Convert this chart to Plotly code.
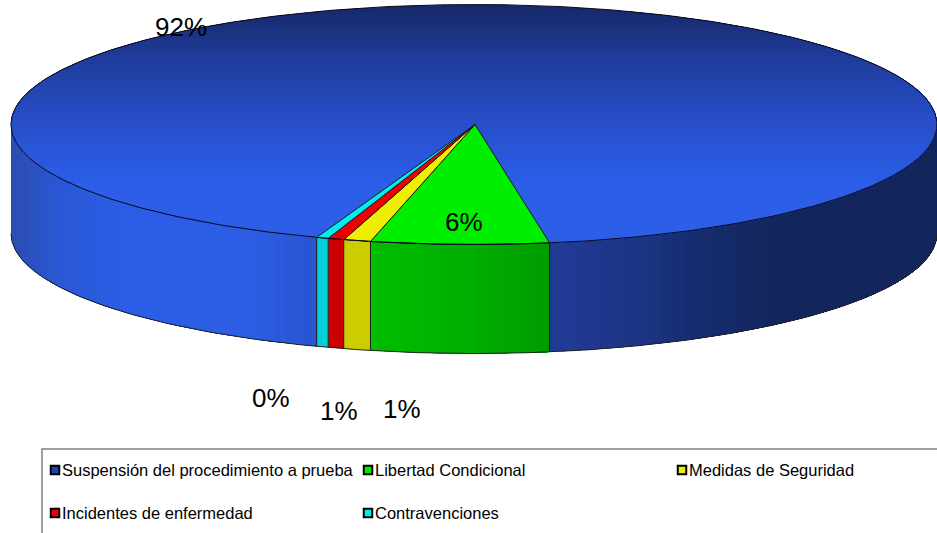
import numpy as np
import plotly.graph_objects as go

# Data
categories = ["Suspensión del procedimiento a prueba", "Libertad Condicional",
              "Medidas de Seguridad", "Incidentes de enfermedad", "Contravenciones"]
values = [91.87, 6.2, 0.95, 0.56, 0.42]
value_labels = ["92%", "6%", "1%", "1%", "0%"]

# Geometry / style
CX, CY, RX, RY, DEPTH = 474, 124.5, 463, 120, 109
AX = 475  # apex of the wedges
START = 9.4  # degrees from the front, green's right edge
top_colors = ["#0000", "#00ee00", "#eeee00", "#ee0000", "#00eeee"]
side_colors = ["#0000", None, "#cccc00", "#cc0000", "#00ced8"]
label_pos = [(181, 27), (464, 222), (402, 409), (339, 411), (271, 398)]
legend_pos = [(55, 470), (368, 470), (682, 470), (55, 513), (368, 513)]
legend_fill = ["#2040b0", "#00ee00", "#eeee00", "#ee0000", "#00eeee"]

top_stops = [(4, (24, 41, 106)), (60, (32, 62, 158)), (124, (40, 80, 204)), (180, (44, 94, 232)), (244, (44, 94, 232))]
left_stops = [(11, (44, 78, 180)), (60, (42, 88, 215)), (130, (44, 94, 232)), (250, (44, 93, 228)), (316, (40, 84, 205))]
right_stops = [(549, (34, 60, 150)), (640, (28, 52, 130)), (700, (22, 44, 108)), (780, (19, 38, 92)), (937, (20, 38, 92))]
green_stops = [(371, (0, 190, 0)), (460, (0, 176, 0)), (549, (0, 156, 0))]


def grad(stops, v):
    xs = [s[0] for s in stops]
    c = [np.interp(v, xs, [s[1][i] for s in stops]) for i in range(3)]
    return "rgb(%d,%d,%d)" % tuple(c)


def px(t):
    return CX + RX * np.sin(np.radians(t))


def py(t):
    return CY + RY * np.cos(np.radians(t))


fig = go.Figure()


def poly(x, y, color):
    fig.add_trace(go.Scatter(x=list(x) + [x[0]], y=list(y) + [y[0]], mode="lines", fill="toself",
                             fillcolor=color, line=dict(width=0, color=color), hoverinfo="skip", showlegend=False))


def line(x, y, color="#000000", width=1):
    fig.add_trace(go.Scatter(x=x, y=y, mode="lines", line=dict(color=color, width=width),
                             hoverinfo="skip", showlegend=False))


def side(t1, t2):
    ts = np.linspace(t1, t2, 60)
    x = np.concatenate([px(ts), px(ts[::-1])])
    y = np.concatenate([py(ts), py(ts[::-1]) + DEPTH])
    return x, y


# Slice boundaries from the values (angles run from right edge of green, towards the left)
edges = [START]
for v in values[1:]:
    edges.append(edges[-1] - v * 3.6)
blue_left_end = edges[-1]

# Sides: blue left
for t in np.linspace(-90, blue_left_end, 50, endpoint=False):
    x, y = side(t, blue_left_end)
    poly(x, y, grad(left_stops, px(t)))
# Sides: blue right
for t in np.linspace(START, 90, 50, endpoint=False):
    x, y = side(t, 90)
    poly(x, y, grad(right_stops, px(t)))
# Sides: green
for t in np.linspace(edges[1], edges[0], 25, endpoint=False):
    x, y = side(t, edges[0])
    poly(x, y, grad(green_stops, px(t)))
# Sides: small slices
for i in range(2, 5):
    x, y = side(edges[i], edges[i - 1])
    poly(x, y, side_colors[i])

# Top: full disc gradient
for yi in np.linspace(CY - RY, CY + RY, 70, endpoint=False):
    cm = np.clip((yi - CY) / RY, -1, 1)
    m = np.degrees(np.arccos(cm))
    ts = np.linspace(-m, m, 200)
    poly(px(ts), py(ts), grad(top_stops, yi))

# Top: wedges
for i in range(1, 5):
    ts = np.linspace(edges[i], edges[i - 1], 20)
    x = np.concatenate([[AX], px(ts)])
    y = np.concatenate([[CY], py(ts)])
    poly(x, y, top_colors[i])
    line(list(x) + [AX], list(y) + [CY], "#1a1a1a", 1)

# Outlines
ts = np.linspace(0, 360, 500)
line(px(ts), py(ts), "#0a0a1e", 1)
ts = np.linspace(-90, 90, 300)
line(px(ts), py(ts) + DEPTH, "#222222", 1)
for e in edges:
    line([px(e), px(e)], [py(e), py(e) + DEPTH], "#1a1a1a", 1)

# Legend box
line([42, 42, 940], [540, 449, 449], "#808080", 1.5)
for i, name in enumerate(categories):
    mx, my = legend_pos[i]
    fig.add_trace(go.Scatter(x=[mx], y=[my], mode="markers", hoverinfo="skip", showlegend=False,
                             marker=dict(symbol="square", size=8.5, color=legend_fill[i],
                                         line=dict(color="#000000", width=2))))

annotations = []
for (lx, ly), t in zip(label_pos, value_labels):
    annotations.append(dict(x=lx, y=ly, text=t, showarrow=False, xanchor="center", yanchor="middle",
                            font=dict(family="Liberation Sans", size=26, color="#000000")))
for (mx, my), name in zip(legend_pos, categories):
    annotations.append(dict(x=mx + 7, y=my, text=name, showarrow=False, xanchor="left", yanchor="middle",
                            xshift=-2, font=dict(family="Liberation Sans", size=16.5, color="#000000")))

fig.update_layout(width=937, height=533, margin=dict(l=0, r=0, t=0, b=0), paper_bgcolor="white",
                  plot_bgcolor="white", showlegend=False, annotations=annotations,
                  xaxis=dict(range=[0, 937], visible=False, fixedrange=True),
                  yaxis=dict(range=[533, 0], visible=False, fixedrange=True))
fig.write_html("out.html", config={"displayModeBar": False},
               post_script="document.body.style.margin='0';document.body.style.overflow='hidden';")
